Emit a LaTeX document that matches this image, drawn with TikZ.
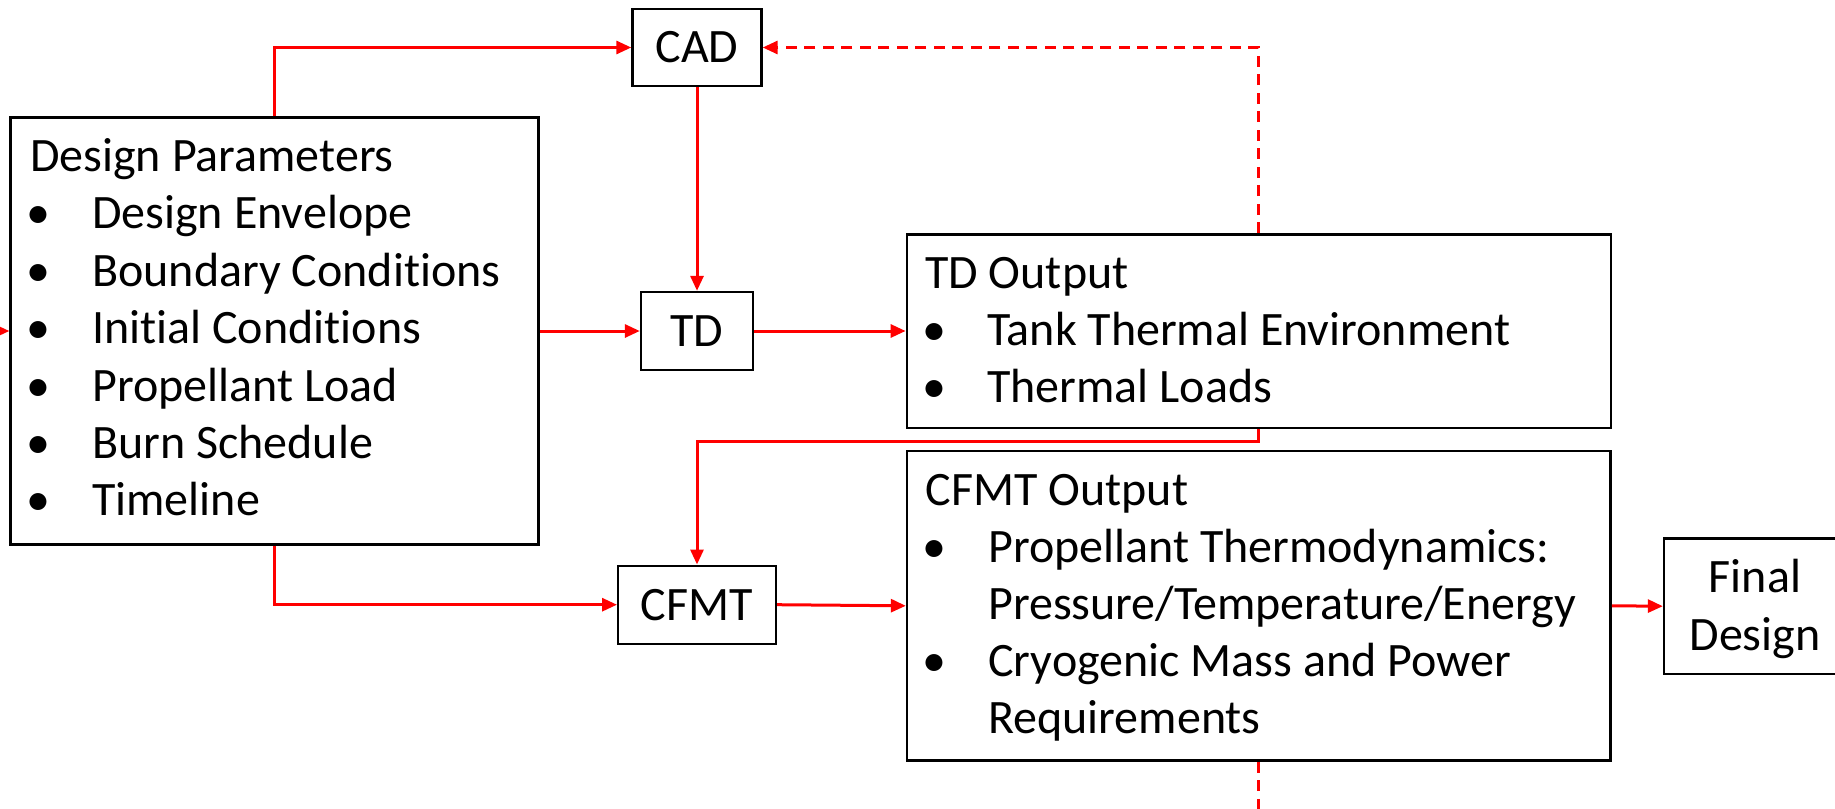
\documentclass[tikz,border=0pt]{standalone}
\usepackage{fontspec}
\setmainfont{Carlito}[Ligatures={NoCommon}]
\usetikzlibrary{arrows.meta}
\begin{document}
\begin{tikzpicture}[x=1pt,y=-1pt,
  box/.style={draw=black, line width=2.4pt, inner sep=0pt, font=\fontsize{48}{57}\selectfont},
  txt/.style={inner sep=0pt, anchor=base west, font=\fontsize{48}{57}\selectfont},
  ctxt/.style={inner sep=0pt, anchor=base, font=\fontsize{48}{57}\selectfont},
  bul/.style={inner sep=0pt, anchor=base, font=\fontsize{48}{57}\selectfont},
  arr/.style={draw=red, line width=3pt, -{Triangle[length=15pt,width=13pt]}},
  dsh/.style={arr, dash pattern=on 11pt off 7.5pt}]
\useasboundingbox (0,0) rectangle (1835,808);

% boxes
\node[box, minimum width=528pt, minimum height=426.7pt] (dp) at (274.6,331) {};
\node[box, minimum width=129pt, minimum height=77pt] (cad) at (697,47.5) {CAD};
\node[box, minimum width=112pt, minimum height=78pt] (td) at (697,331) {TD};
\node[box, minimum width=704pt, minimum height=193.7pt] (tdo) at (1258.8,331.2) {};
\node[box, minimum width=157.6pt, minimum height=78pt] (cfmt) at (697,604.7) {CFMT};
\node[box, minimum width=703.6pt, minimum height=309.7pt] (cfo) at (1258.8,605.8) {};
\node[box, minimum width=182pt, minimum height=135.7pt] (fd) at (1755,606.2) {};

% Design Parameters text
\node[txt] (dpt) at (30,171.5) {Design Parameters};
\node[bul] (dpb1) at (38,228.9) {•};
\node[txt] (dp1) at (92,228.9) {Design Envelope};
\node[bul] (dpb2) at (38,286.3) {•};
\node[txt] (dp2) at (92,286.3) {Boundary Conditions};
\node[bul] (dpb3) at (38,343.7) {•};
\node[txt] (dp3) at (92,343.7) {Initial Conditions};
\node[bul] (dpb4) at (38,401.1) {•};
\node[txt] (dp4) at (92,401.1) {Propellant Load};
\node[bul] (dpb5) at (38,458.5) {•};
\node[txt] (dp5) at (92,458.5) {Burn Schedule};
\node[bul] (dpb6) at (38,515.9) {•};
\node[txt] (dp6) at (92,515.9) {Timeline};

% TD Output text
\node[txt] (tdot) at (925,288) {TD Output};
\node[bul] (tdob1) at (934.4,345) {•};
\node[txt] (tdo1) at (987,345) {Tank Thermal Environment};
\node[bul] (tdob2) at (934.4,402.3) {•};
\node[txt] (tdo2) at (987,402.3) {Thermal Loads};

% CFMT Output text
\node[txt] (cfot) at (925.5,505) {CFMT Output};
\node[bul] (cfob1) at (934.6,562) {•};
\node[txt] (cfo1) at (988,562) {Propellant Thermodynamics:};
\node[txt] (cfo2) at (988,619.5) {Pressure/Temperature/Energy};
\node[bul] (cfob2) at (934.6,676.5) {•};
\node[txt] (cfo3) at (988,676.5) {Cryogenic Mass and Power};
\node[txt] (cfo4) at (988,733) {Requirements};

% Final Design text
\node[ctxt] (fd1) at (1755,592.3) {Final};
\node[ctxt] (fd2) at (1755,650) {Design};

% connectors
\coordinate (lin) at (-30,331);
\draw[arr] (lin) -- (dp.west);
\draw[arr] (dp.north) |- (cad.west);
\draw[arr] (cad.south) -- (td.north);
\draw[arr] (dp.east) -- (td.west);
\draw[arr] (td.east) -- (tdo.west |- td.east);
\draw[arr] (tdo.south) -- ++(0,12.7) -| (cfmt.north);
\draw[arr] (dp.south) |- (cfmt.west);
\draw[arr] (cfmt.east) -- (cfo.west);
\draw[arr] (cfo.east) -- (fd.west);
\draw[dsh] (tdo.north) |- (cad.east);
\coordinate (dn) at (1258.8,830);
\draw[dsh,-] (cfo.south) -- (dn);
\end{tikzpicture}
\end{document}
